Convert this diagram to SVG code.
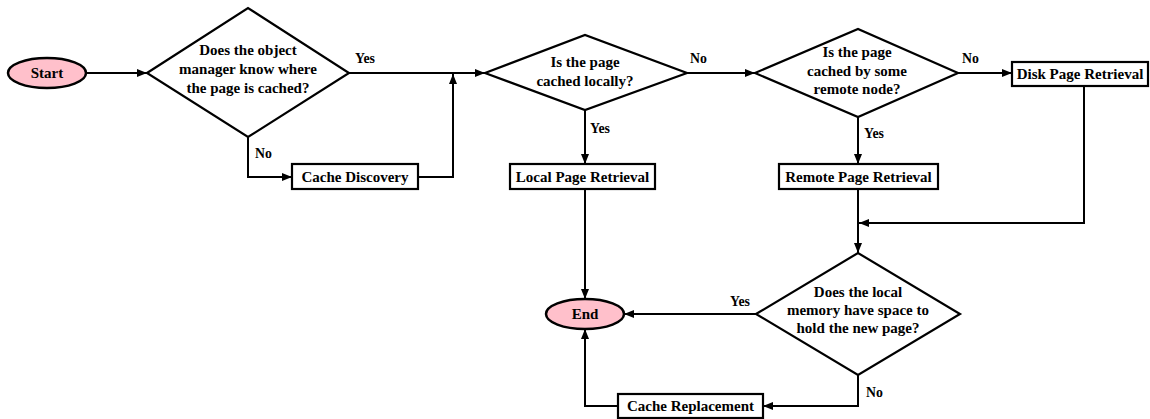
<svg xmlns="http://www.w3.org/2000/svg" width="1150" height="419" viewBox="0 0 1150 419">
  <style>
    .shape { fill: #ffffff; stroke: #000000; stroke-width: 2.2; }
    .term { fill: #ffc0cb; stroke: #000000; stroke-width: 2.5; }
    .txt { font-family: "Liberation Serif", "Times New Roman", serif; font-weight: bold; font-size: 15px; fill: #000000; text-anchor: middle; }
    .lbl { font-family: "Liberation Serif", "Times New Roman", serif; font-weight: bold; font-size: 13.8px; fill: #000000; }
    .conn path { fill: none; stroke: #000000; stroke-width: 2; marker-end: url(#arr); }
  </style>
  <defs>
    <marker id="arr" viewBox="0 0 10 8" refX="10" refY="4" markerWidth="10" markerHeight="8" orient="auto" markerUnits="userSpaceOnUse">
      <path d="M0,0 L10,4 L0,8 z" fill="#000000"/>
    </marker>
  </defs>
  <rect width="1150" height="419" fill="#ffffff"/>

  <!-- connectors -->
  <g id="connectors" class="conn">
    <path d="M87,73 H147"/>
    <path d="M349,73 H485"/>
    <path d="M248,137 V177 H292"/>
    <path d="M418,177 H453 V74"/>
    <path d="M687,73 H755"/>
    <path d="M585,110 V164"/>
    <path d="M958,73 H1012"/>
    <path d="M858,117 V164"/>
    <path d="M858,189 V253"/>
    <path d="M1084,86 V223 H859"/>
    <path d="M585,189 V299"/>
    <path d="M756,314 H624"/>
    <path d="M858,375 V406 H763"/>
    <path d="M618,406 H585 V329"/>
  </g>

  <!-- edge labels -->
  <g id="labels">
    <text class="lbl" x="355" y="63">Yes</text>
    <text class="lbl" x="255" y="158">No</text>
    <text class="lbl" x="690" y="63">No</text>
    <text class="lbl" x="590" y="133">Yes</text>
    <text class="lbl" x="962" y="63">No</text>
    <text class="lbl" x="864" y="138">Yes</text>
    <text class="lbl" x="730" y="306">Yes</text>
    <text class="lbl" x="866" y="397">No</text>
  </g>

  <g id="start">
    <ellipse class="term" cx="47" cy="73" rx="39" ry="15"/>
    <text class="txt" x="47" y="78">Start</text>
  </g>

  <g id="q-object-manager">
    <polygon class="shape" points="147,73 248,8 349,73 248,137"/>
    <text class="txt" x="248" y="55">Does the object</text>
    <text class="txt" x="248" y="74">manager know where</text>
    <text class="txt" x="248" y="93">the page is cached?</text>
  </g>

  <g id="cache-discovery">
    <rect class="shape" x="292" y="164" width="126" height="25"/>
    <text class="txt" x="355" y="182">Cache Discovery</text>
  </g>

  <g id="q-cached-locally">
    <polygon class="shape" points="485,73 585,35 687,73 585,110"/>
    <text class="txt" x="585" y="67">Is the page</text>
    <text class="txt" x="585" y="86">cached locally?</text>
  </g>

  <g id="local-page-retrieval">
    <rect class="shape" x="510" y="164" width="145" height="25"/>
    <text class="txt" x="582.5" y="182">Local Page Retrieval</text>
  </g>

  <g id="q-cached-remote">
    <polygon class="shape" points="755,73 858,29 958,73 858,117"/>
    <text class="txt" x="857" y="57">Is the page</text>
    <text class="txt" x="857" y="75.5">cached by some</text>
    <text class="txt" x="857" y="94">remote node?</text>
  </g>

  <g id="remote-page-retrieval">
    <rect class="shape" x="779" y="164" width="159" height="25"/>
    <text class="txt" x="858.5" y="182">Remote Page Retrieval</text>
  </g>

  <g id="disk-page-retrieval">
    <rect class="shape" x="1012" y="62" width="136" height="24"/>
    <text class="txt" x="1080" y="79">Disk Page Retrieval</text>
  </g>

  <g id="q-local-space">
    <polygon class="shape" points="756,314 858,253 960,314 858,375"/>
    <text class="txt" x="858" y="297">Does the local</text>
    <text class="txt" x="858" y="315">memory have space to</text>
    <text class="txt" x="858" y="333">hold the new page?</text>
  </g>

  <g id="cache-replacement">
    <rect class="shape" x="618" y="394" width="145" height="24"/>
    <text class="txt" x="690.5" y="411">Cache Replacement</text>
  </g>

  <g id="end">
    <ellipse class="term" cx="585" cy="314" rx="39" ry="15"/>
    <text class="txt" x="585" y="319">End</text>
  </g>
</svg>
